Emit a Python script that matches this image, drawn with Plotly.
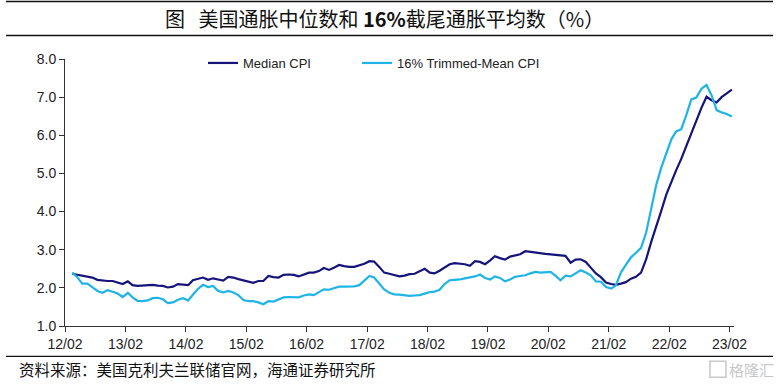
import plotly.graph_objects as go
import pandas as pd

# ---- data (monthly, 2012-03 .. 2023-02) ----
months = pd.date_range("2012-03-01", periods=132, freq="MS") + pd.Timedelta(days=14)

median_cpi = [
    2.37, 2.34, 2.33, 2.30, 2.27, 2.21, 2.19, 2.18, 2.18, 2.14, 2.10, 2.17,
    2.07, 2.05, 2.06, 2.08, 2.08, 2.06, 2.05, 2.01, 2.03, 2.10, 2.08, 2.07,
    2.20, 2.24, 2.27, 2.21, 2.25, 2.22, 2.19, 2.29, 2.27, 2.23, 2.19, 2.16,
    2.13, 2.18, 2.18, 2.31, 2.28, 2.27, 2.34, 2.35, 2.34, 2.30, 2.34, 2.40,
    2.40, 2.44, 2.52, 2.47, 2.53, 2.60, 2.57, 2.55, 2.55, 2.58, 2.63, 2.70,
    2.69, 2.55, 2.40, 2.37, 2.34, 2.30, 2.32, 2.36, 2.37, 2.43, 2.50, 2.40,
    2.38, 2.45, 2.53, 2.62, 2.65, 2.64, 2.62, 2.58, 2.70, 2.68, 2.62, 2.72,
    2.83, 2.78, 2.74, 2.82, 2.85, 2.88, 2.96, 2.94, 2.92, 2.90, 2.89, 2.88,
    2.87, 2.85, 2.84, 2.66, 2.74, 2.75, 2.68, 2.53, 2.38, 2.28, 2.14, 2.10,
    2.08, 2.11, 2.15, 2.24, 2.29, 2.40, 2.75, 3.20, 3.65, 4.02, 4.45, 4.80,
    5.08, 5.38, 5.72, 6.08, 6.42, 6.72, 7.01, 6.92, 6.86, 7.00, 7.10, 7.20,
]

trimmed_mean_cpi = [
    2.40, 2.28, 2.11, 2.11, 2.02, 1.92, 1.87, 1.94, 1.90, 1.85, 1.76, 1.87,
    1.75, 1.66, 1.65, 1.67, 1.73, 1.74, 1.70, 1.60, 1.62, 1.69, 1.73, 1.67,
    1.82, 1.97, 2.08, 2.02, 2.05, 1.92, 1.88, 1.92, 1.88, 1.81, 1.68, 1.65,
    1.65, 1.62, 1.57, 1.65, 1.64, 1.70, 1.75, 1.76, 1.76, 1.75, 1.80, 1.83,
    1.81, 1.88, 1.96, 1.95, 1.98, 2.03, 2.03, 2.03, 2.04, 2.07, 2.20, 2.31,
    2.27, 2.12, 1.96, 1.87, 1.83, 1.82, 1.81, 1.79, 1.80, 1.81, 1.85, 1.89,
    1.90, 1.95, 2.10, 2.20, 2.21, 2.22, 2.25, 2.27, 2.30, 2.35, 2.26, 2.22,
    2.30, 2.26, 2.17, 2.22, 2.29, 2.31, 2.33, 2.38, 2.42, 2.40, 2.41, 2.42,
    2.32, 2.20, 2.32, 2.30, 2.38, 2.46, 2.40, 2.33, 2.17, 2.16, 2.02, 1.98,
    2.06, 2.40, 2.60, 2.80, 2.92, 3.05, 3.45, 4.05, 4.70, 5.15, 5.55, 5.90,
    6.10, 6.16, 6.52, 6.94, 6.99, 7.22, 7.32, 7.05, 6.66, 6.60, 6.56, 6.49,
]

tick_dates = [f"{y}-02-01" for y in range(2012, 2024)]
tick_labels = [f"{y % 100:02d}/02" for y in range(2012, 2024)]

series_names = ["Median CPI", "16% Trimmed-Mean CPI"]

DARK = "#16137a"
LIGHT = "#1fb4e6"

# plot-area geometry in pixels
L, R, T, B = 65, 734, 59, 325.7
W, H = R - L, B - T


def px_x(p):
    return (p - L) / W


def px_y(p):
    return (B - p) / H


fig = go.Figure()
fig.add_trace(go.Scatter(x=months, y=median_cpi, mode="lines", name=series_names[0],
                         line=dict(color=DARK, width=2.2), legend="legend"))
fig.add_trace(go.Scatter(x=months, y=trimmed_mean_cpi, mode="lines", name=series_names[1],
                         line=dict(color=LIGHT, width=2.2), legend="legend2"))

axis_font = dict(family="Liberation Sans, Arial, sans-serif", size=14, color="#222222")
leg_font = dict(family="Liberation Sans, Arial, sans-serif", size=13, color="#222222")

fig.update_layout(
    width=783, height=386,
    margin=dict(l=L, r=783 - R, t=T, b=386 - B, autoexpand=False),
    paper_bgcolor="white", plot_bgcolor="white",
    showlegend=True,
    legend=dict(x=px_x(203), xanchor="left", y=px_y(63), yanchor="middle",
                font=leg_font, bgcolor="rgba(0,0,0,0)"),
    legend2=dict(x=px_x(357), xanchor="left", y=px_y(63), yanchor="middle",
                 font=leg_font, bgcolor="rgba(0,0,0,0)"),
    xaxis=dict(type="date", range=["2012-02-01", "2023-02-28"],
               tickmode="array", tickvals=tick_dates, ticktext=tick_labels,
               ticks="outside", ticklen=5, tickcolor="#333333",
               showline=True, linecolor="#333333", linewidth=1,
               showgrid=False, zeroline=False, tickfont=axis_font, automargin=False),
    yaxis=dict(range=[1, 8], dtick=1, tick0=1, tickformat=".1f",
               ticks="outside", ticklen=5, tickcolor="#333333",
               showline=True, linecolor="#333333", linewidth=1,
               showgrid=False, zeroline=False, tickfont=axis_font, automargin=False),
)

# title
fig.add_annotation(
    xref="paper", yref="paper", x=px_x(384), y=px_y(19),
    xanchor="center", yanchor="middle", showarrow=False,
    text="图   美国通胀中位数和 <b>16%</b>截尾通胀平均数（%）",
    font=dict(family="Noto Sans CJK SC", size=20, color="#111111"),
)

# source
fig.add_annotation(
    xref="paper", yref="paper", x=px_x(17), y=px_y(369),
    xanchor="left", yanchor="middle", showarrow=False,
    text="资料来源：美国克利夫兰联储官网，海通证券研究所",
    font=dict(family="Noto Sans CJK SC", size=15.5, color="#111111"),
)

# watermark
fig.add_annotation(
    xref="paper", yref="paper", x=px_x(776), y=px_y(369),
    xanchor="right", yanchor="middle", showarrow=False,
    text="格隆汇",
    font=dict(family="Noto Sans CJK SC", size=15, color="#c8c8c8"),
)

# horizontal rules
for yy, w in [(1.5, 1.5), (35.5, 1.5), (356, 1.2)]:
    fig.add_shape(type="line", xref="paper", yref="paper",
                  x0=px_x(6), x1=px_x(773), y0=px_y(yy), y1=px_y(yy),
                  line=dict(color="#111111", width=w))

# watermark icon box
fig.add_shape(type="rect", xref="paper", yref="paper",
              x0=px_x(710), x1=px_x(726), y0=px_y(377), y1=px_y(361),
              line=dict(color="#c8c8c8", width=1.5))

fig.write_html(
    "out.html",
    config={"displayModeBar": False},
    post_script="document.body.style.margin='0';document.body.style.padding='0';"
                "document.body.style.overflow='hidden';",
)
